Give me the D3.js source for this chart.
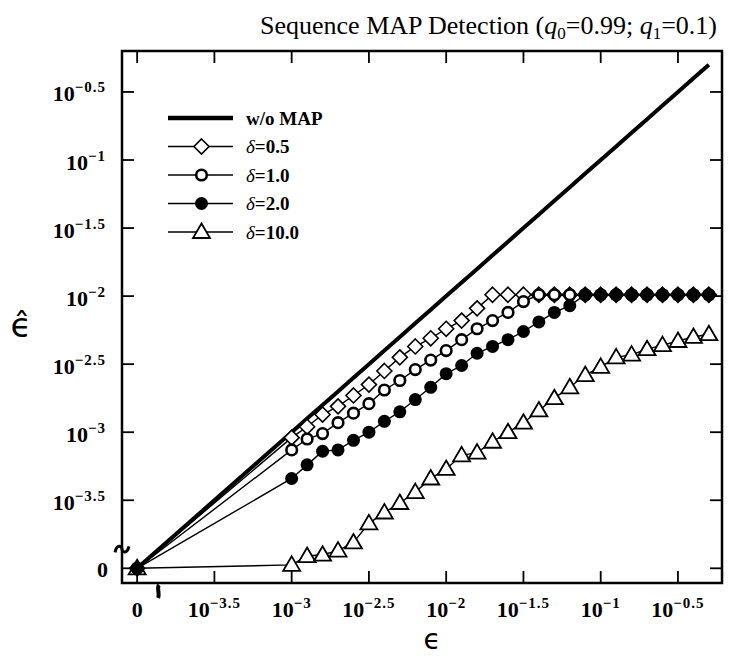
<!DOCTYPE html>
<html>
<head>
<meta charset="utf-8">
<script src="https://cdn.jsdelivr.net/npm/d3@7"></script>
<style>
body { margin: 0; background: #fff; }
svg { display: block; }
</style>
</head>
<body>
<svg id="chart" width="729" height="657"></svg>
<script>
// epsilon grid (log10); every curve also starts at the origin eps = 0, epsHat = 0
const epsExp = [-3.0, -2.9, -2.8, -2.7, -2.6, -2.5, -2.4, -2.3, -2.2, -2.1, -2.0, -1.9, -1.8, -1.7,
    -1.6, -1.5, -1.4, -1.3, -1.2, -1.1, -1.0, -0.9, -0.8, -0.7, -0.6, -0.5, -0.4, -0.3];

// epsHat (log10)
const woMap = [-3.0, -2.9, -2.8, -2.7, -2.6, -2.5, -2.4, -2.3, -2.2, -2.1, -2.0, -1.9, -1.8, -1.7,
    -1.6, -1.5, -1.4, -1.3, -1.2, -1.1, -1.0, -0.9, -0.8, -0.7, -0.6, -0.5, -0.4, -0.3];
const delta05 = [-3.04, -2.96, -2.87, -2.81, -2.73, -2.65, -2.55, -2.45, -2.37, -2.31, -2.24, -2.18, -2.09,
    -1.99, -1.99, -1.99, -1.99, -1.99, -1.99, -1.99, -1.99, -1.99, -1.99, -1.99, -1.99, -1.99, -1.99, -1.99];
const delta10 = [-3.13, -3.05, -3.01, -2.93, -2.86, -2.79, -2.69, -2.62, -2.54, -2.47, -2.40, -2.32, -2.24,
    -2.18, -2.12, -2.04, -1.99, -1.99, -1.99, -1.99, -1.99, -1.99, -1.99, -1.99, -1.99, -1.99, -1.99, -1.99];
const delta20 = [-3.34, -3.24, -3.14, -3.13, -3.06, -3.00, -2.92, -2.85, -2.76, -2.67, -2.57, -2.51, -2.42,
    -2.37, -2.32, -2.26, -2.19, -2.12, -2.07, -1.99, -1.99, -1.99, -1.99, -1.99, -1.99, -1.99, -1.99, -1.99];
const delta100 = [-3.975, -3.91, -3.90, -3.87, -3.81, -3.67, -3.59, -3.52, -3.44, -3.34, -3.27, -3.17, -3.15,
    -3.07, -3.00, -2.93, -2.84, -2.75, -2.67, -2.58, -2.52, -2.45, -2.43, -2.39, -2.36, -2.33, -2.30, -2.28];

const tickExp = [-3.5, -3, -2.5, -2, -1.5, -1, -0.5];
const tickText = ["3.5", "3", "2.5", "2", "1.5", "1", "0.5"];
const seriesNames = ["w/o MAP", "0.5", "1.0", "2.0", "10.0"];

const series = [
    { name: seriesNames[0], vals: woMap, marker: "none" },
    { name: seriesNames[1], vals: delta05, marker: "diamond" },
    { name: seriesNames[2], vals: delta10, marker: "ring" },
    { name: seriesNames[3], vals: delta20, marker: "dot" },
    { name: seriesNames[4], vals: delta100, marker: "triangle" }
];

const svg = d3.select("#chart");
const pLeft = 122, pRight = 722, pTop = 51, pBottom = 583;
const ZERO = 1e-4; // where the broken axes put 0

const xLog = d3.scaleLog().domain([10 ** -4.098, 10 ** -0.215]).range([pLeft, pRight]);
const yLog = d3.scaleLog().domain([10 ** -4.108, 10 ** -0.199]).range([pBottom, pTop]);
const x = v => xLog(v === 0 ? ZERO : v);
const y = v => yLog(v === 0 ? ZERO : v);

const serif = "'Liberation Serif', 'DejaVu Serif', serif";

// title
const title = svg.append("text")
    .attr("x", 717).attr("y", 34)
    .attr("text-anchor", "end")
    .style("font-family", serif).style("font-size", "26px");
title.append("tspan").text("Sequence MAP Detection (");
title.append("tspan").style("font-style", "italic").text("q");
title.append("tspan").attr("dy", 5).style("font-size", "17px").text("0");
title.append("tspan").attr("dy", -5).text("=0.99; ");
title.append("tspan").style("font-style", "italic").text("q");
title.append("tspan").attr("dy", 5).style("font-size", "17px").text("1");
title.append("tspan").attr("dy", -5).text("=0.1)");

// frame
svg.append("rect")
    .attr("x", pLeft).attr("y", pTop)
    .attr("width", pRight - pLeft).attr("height", pBottom - pTop)
    .attr("fill", "none").attr("stroke", "#000").attr("stroke-width", 2.5);

const tickVals = [0].concat(tickExp.map(e => 10 ** e));
const tk = 12;
const ticks = svg.append("g").attr("stroke", "#000").attr("stroke-width", 1.8);
tickVals.forEach(v => {
    ticks.append("line").attr("x1", x(v)).attr("x2", x(v)).attr("y1", pBottom).attr("y2", pBottom - tk);
    ticks.append("line").attr("x1", x(v)).attr("x2", x(v)).attr("y1", pTop).attr("y2", pTop + tk);
    ticks.append("line").attr("y1", y(v)).attr("y2", y(v)).attr("x1", pLeft).attr("x2", pLeft + tk);
    ticks.append("line").attr("y1", y(v)).attr("y2", y(v)).attr("x1", pRight).attr("x2", pRight - tk);
});

// tick labels
function powLabel(sel, t) {
    sel.append("tspan").text("10");
    sel.append("tspan").attr("dy", -9).style("font-size", "15px").style("letter-spacing", "1px")
        .text("\u2212" + t);
}
const labels = svg.append("g")
    .style("font-family", serif).style("font-weight", "bold").style("font-size", "22px");
labels.append("text").attr("x", x(0)).attr("y", 617).attr("text-anchor", "middle").text("0");
labels.append("text").attr("x", 108).attr("y", y(0) + 9).attr("text-anchor", "end").text("0");
tickExp.forEach((e, i) => {
    labels.append("text").attr("x", x(10 ** e)).attr("y", 617)
        .attr("text-anchor", "middle").call(powLabel, tickText[i]);
    labels.append("text").attr("x", 106).attr("y", y(10 ** e) + 9.5)
        .attr("text-anchor", "end").call(powLabel, tickText[i]);
});

// axis-break marks
const yb = y(0) - 19;
svg.append("path")
    .attr("d", `M${pLeft - 7},${yb + 3} C${pLeft - 5},${yb - 6} ${pLeft},${yb - 3} ${pLeft},${yb} S${pLeft + 5},${yb + 5} ${pLeft + 7},${yb - 3}`)
    .attr("fill", "none").attr("stroke", "#000").attr("stroke-width", 3);
const xb = x(0) + 21;
svg.append("path")
    .attr("d", `M${xb + 1},${pBottom + 2} C${xb - 2},${pBottom + 5} ${xb + 2},${pBottom + 9} ${xb},${pBottom + 15}`)
    .attr("fill", "none").attr("stroke", "#000").attr("stroke-width", 4);

// axis titles
svg.append("text").attr("x", 432).attr("y", 649)
    .attr("text-anchor", "middle")
    .style("font-family", "'DejaVu Sans', sans-serif").style("font-size", "28px")
    .text("\u03f5");
svg.append("text").attr("x", 21).attr("y", 337)
    .attr("text-anchor", "middle")
    .style("font-family", "'DejaVu Sans', sans-serif").style("font-size", "34px")
    .text("\u03f5\u0302");

// markers
function drawMarker(g, kind, cx, cy) {
    if (kind === "diamond") {
        g.append("path").attr("d", `M${cx},${cy - 7.5}L${cx + 7.5},${cy}L${cx},${cy + 7.5}L${cx - 7.5},${cy}Z`)
            .attr("fill", "#fff").attr("stroke", "#000").attr("stroke-width", 1.6);
    } else if (kind === "ring") {
        g.append("circle").attr("cx", cx).attr("cy", cy).attr("r", 5.3)
            .attr("fill", "#fff").attr("stroke", "#000").attr("stroke-width", 2.6);
    } else if (kind === "dot") {
        g.append("circle").attr("cx", cx).attr("cy", cy).attr("r", 6.5).attr("fill", "#000");
    } else if (kind === "triangle") {
        g.append("path").attr("d", `M${cx},${cy - 8.5}L${cx + 8.5},${cy + 6}L${cx - 8.5},${cy + 6}Z`)
            .attr("fill", "#fff").attr("stroke", "#000").attr("stroke-width", 1.8);
    }
}

const line = d3.line().x(d => x(d[0])).y(d => y(d[1]));
const plot = svg.append("g");
const lineLayer = plot.append("g");
const markLayer = plot.append("g");
const pointsOf = s => [[0, 0]].concat(epsExp.map((e, i) => [10 ** e, 10 ** s.vals[i]]));
series.forEach(s => {
    lineLayer.append("path").datum(pointsOf(s)).attr("d", line)
        .attr("fill", "none").attr("stroke", "#000")
        .attr("stroke-width", s.marker === "none" ? 4 : 1.4);
});
// triangles first, then diamonds, rings and dots on top (as in the plateau overlap)
[series[4], series[1], series[2], series[3]].forEach(s => {
    const mg = markLayer.append("g");
    pointsOf(s).forEach(p => drawMarker(mg, s.marker, x(p[0]), y(p[1])));
});

// legend
const legend = svg.append("g").style("font-family", serif).style("font-size", "19px").style("font-weight", "bold");
series.forEach((s, i) => {
    const ly = 118 + i * 28.5;
    legend.append("line").attr("x1", 168).attr("x2", 233).attr("y1", ly).attr("y2", ly)
        .attr("stroke", "#000").attr("stroke-width", s.marker === "none" ? 4.5 : 1.4);
    drawMarker(legend, s.marker, 201.5, ly);
    const t = legend.append("text").attr("x", 246).attr("y", ly + 6.5);
    if (s.marker === "none") {
        t.text(s.name);
    } else {
        t.append("tspan").style("font-style", "italic").style("font-weight", "normal").text("\u03b4");
        t.append("tspan").text("=" + s.name);
    }
});
</script>
</body>
</html>
